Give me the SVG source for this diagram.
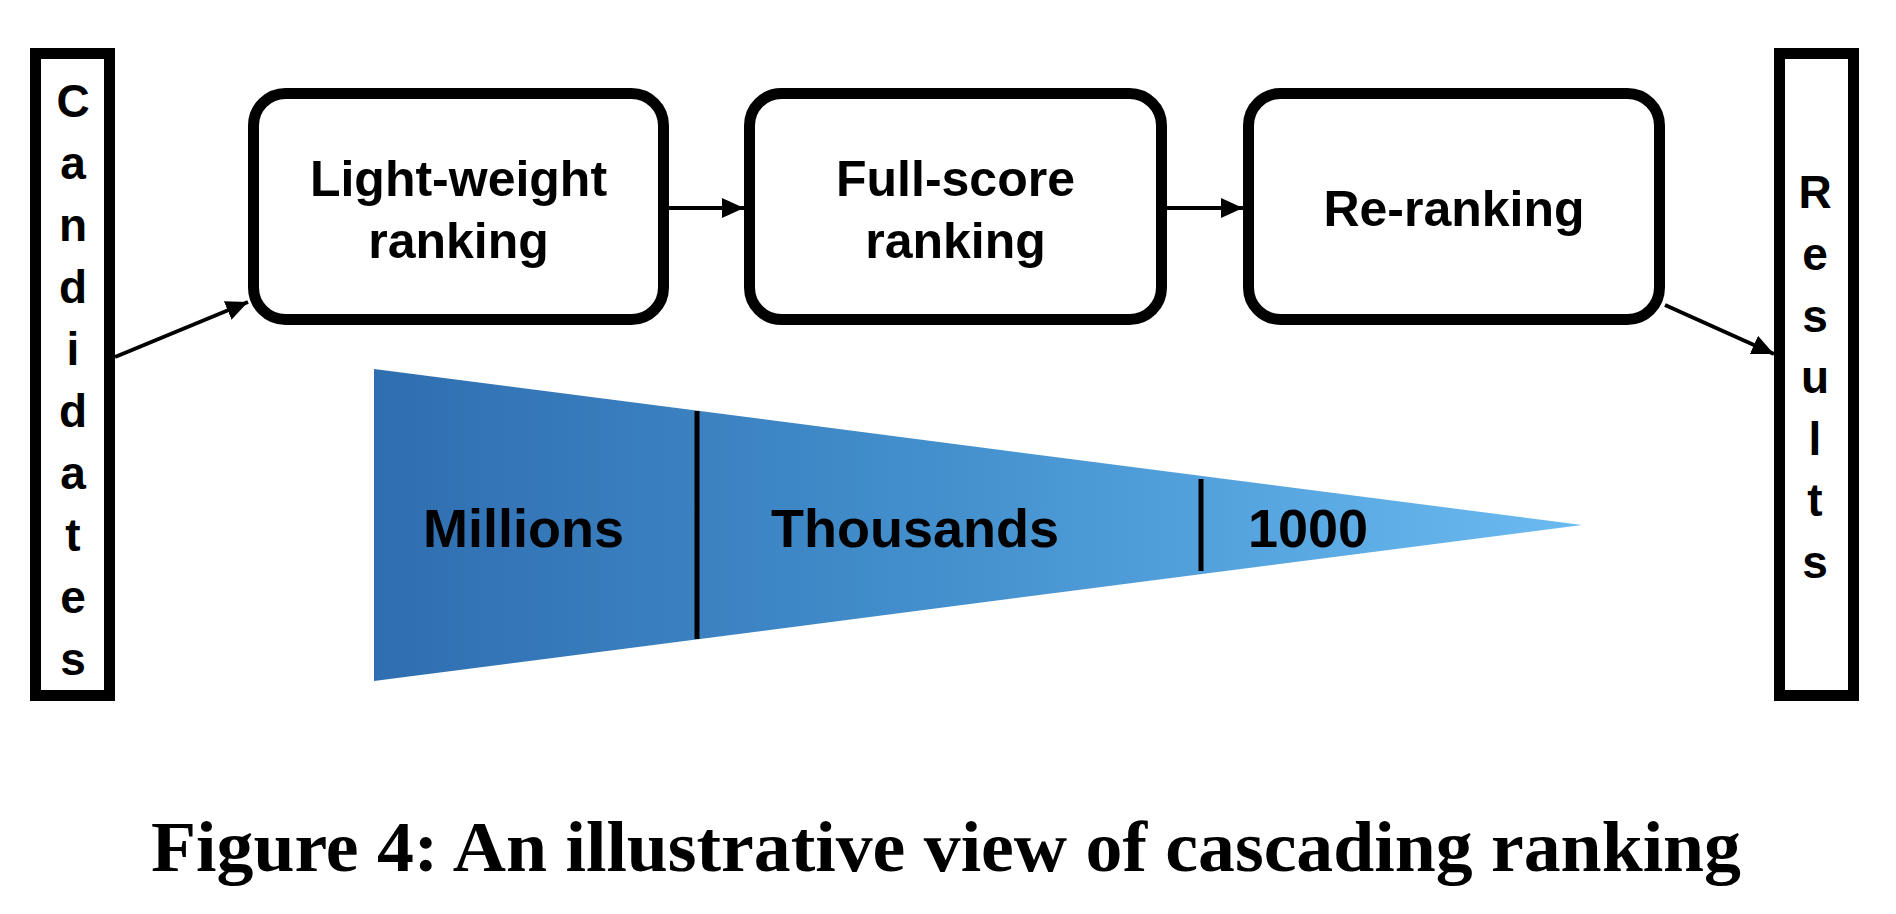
<svg xmlns="http://www.w3.org/2000/svg" width="1896" height="914" viewBox="0 0 1896 914">
<style>
.frame{fill:#fff;stroke:#000;stroke-width:11}
.box{fill:#fff;stroke:#000;stroke-width:11}
.lbl{font-family:"Liberation Sans",Arial,sans-serif;font-weight:bold;font-size:50px;fill:#000;text-anchor:middle}
.vl{font-family:"Liberation Sans",Arial,sans-serif;font-weight:bold;font-size:46px;fill:#000;text-anchor:middle}
.tri{font-family:"Liberation Sans",Arial,sans-serif;font-weight:bold;font-size:54px;fill:#000}
.conn{stroke:#000;stroke-width:4;fill:none;marker-end:url(#ah)}
.div{stroke:#000;stroke-width:5}
.cap{font-family:"Liberation Serif","Times New Roman",serif;font-weight:bold;font-size:72px;fill:#000}
</style>
<defs>
<marker id="ah" markerWidth="22" markerHeight="20" refX="22" refY="10" orient="auto" markerUnits="userSpaceOnUse">
<path d="M0,0 L22,10 L0,20 Z" fill="#000"/>
</marker>
<linearGradient id="g" gradientUnits="userSpaceOnUse" x1="374" y1="0" x2="1582" y2="0">
<stop offset="0" stop-color="#2f6eb0"/>
<stop offset="0.5" stop-color="#4592cf"/>
<stop offset="1" stop-color="#6bbbf1"/>
</linearGradient>
</defs>
<rect width="1896" height="914" fill="#fff"/>

<g id="candidates">
<rect class="frame" x="35.5" y="53.5" width="74" height="642"/>
<text class="vl" x="73" y="117">C</text>
<text class="vl" x="73" y="179">a</text>
<text class="vl" x="73" y="241">n</text>
<text class="vl" x="73" y="303">d</text>
<text class="vl" x="73" y="365">i</text>
<text class="vl" x="73" y="427">d</text>
<text class="vl" x="73" y="489">a</text>
<text class="vl" x="73" y="551">t</text>
<text class="vl" x="73" y="613">e</text>
<text class="vl" x="73" y="675">s</text>
</g>

<g id="results">
<rect class="frame" x="1779.5" y="53.5" width="74" height="642"/>
<text class="vl" x="1815" y="208">R</text>
<text class="vl" x="1815" y="270">e</text>
<text class="vl" x="1815" y="332">s</text>
<text class="vl" x="1815" y="393">u</text>
<text class="vl" x="1815" y="455">l</text>
<text class="vl" x="1815" y="516">t</text>
<text class="vl" x="1815" y="578">s</text>
</g>

<g id="light-weight">
<rect class="box" x="253.5" y="93.5" width="410" height="226" rx="32"/>
<text class="lbl" x="458.5" y="196">Light-weight</text>
<text class="lbl" x="458.5" y="258">ranking</text>
</g>

<g id="full-score">
<rect class="box" x="749.5" y="93.5" width="412" height="226" rx="32"/>
<text class="lbl" x="955.5" y="196">Full-score</text>
<text class="lbl" x="955.5" y="258">ranking</text>
</g>

<g id="re-ranking">
<rect class="box" x="1248.5" y="93.5" width="411" height="226" rx="32"/>
<text class="lbl" x="1454" y="226">Re-ranking</text>
</g>

<g id="connectors">
<line class="conn" x1="115" y1="357" x2="248" y2="302"/>
<line class="conn" x1="669" y1="208" x2="744" y2="208"/>
<line class="conn" x1="1167" y1="208" x2="1243" y2="208"/>
<line class="conn" x1="1665" y1="305" x2="1774" y2="354"/>
</g>

<g id="funnel">
<polygon points="374,369 1582,525 374,681" fill="url(#g)"/>
<line class="div" x1="697" y1="411" x2="697" y2="639"/>
<line class="div" x1="1201" y1="479" x2="1201" y2="571"/>
<text class="tri" x="423" y="547">Millions</text>
<text class="tri" x="771" y="547">Thousands</text>
<text class="tri" x="1248" y="547">1000</text>
</g>

<text class="cap" x="151" y="871" textLength="1590" lengthAdjust="spacingAndGlyphs">Figure 4: An illustrative view of cascading ranking</text>
</svg>
